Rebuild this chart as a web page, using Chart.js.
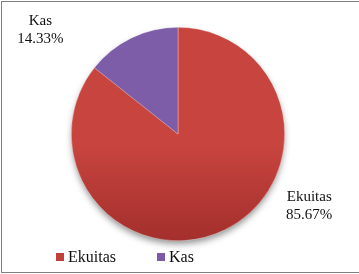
<!DOCTYPE html>
<html>
<head>
<meta charset="utf-8">
<script src="https://cdn.jsdelivr.net/npm/chart.js@4.4.0/dist/chart.umd.min.js"></script>
<style>
  html, body { margin: 0; padding: 0; background: #fff; }
  #wrap { position: relative; width: 359px; height: 274px; overflow: hidden; }
  #frame {
    position: absolute; left: 1px; top: 1px; width: 370px; height: 270px;
    border: 1px solid #7f7f7f; border-right: none; pointer-events: none;
  }
  canvas { position: absolute; left: 0; top: 0; }
  #legend {
    position: absolute; left: 56px; top: 248px;
    font-family: "Liberation Serif", "Times New Roman", serif; font-size: 16px; color: #111;
    display: flex; gap: 41px; white-space: nowrap;
  }
  #legend span.item { display: flex; align-items: center; }
  #legend i { display: inline-block; width: 8px; height: 8px; margin-right: 4px; }
</style>
</head>
<body>
<div id="wrap">
  <canvas id="pie" width="359" height="274"></canvas>
  <div id="legend"></div>
  <div id="frame"></div>
</div>
<script>
// data
const categories = ['Ekuitas', 'Kas'];
const shares = [85.67, 14.33];
const shareLabels = ['85.67%', '14.33%'];
const colorsTop = ['#c8443f', '#7d5ca8'];
const colorsBottom = ['#a32f2c', '#7654a2'];
const legendColors = ['#c0403c', '#7b5aa6'];

// where each data label sits, relative to the pie centre (in radii)
const labelOffsets = [
  { x: 1.23, y: 0.68 },   // Ekuitas
  { x: -1.29, y: -0.97 }  // Kas
];

const serif = '"Liberation Serif", "Times New Roman", serif';

/* legend as html */
const legendEl = document.getElementById('legend');
categories.forEach((c, i) => {
  const s = document.createElement('span');
  s.className = 'item';
  s.innerHTML = '<i style="background:' + legendColors[i] + '"></i>' + c;
  legendEl.appendChild(s);
});

/* soft shadow under the pie */
const pieShadow = {
  id: 'pieShadow',
  beforeDatasetsDraw(chart) {
    const arc = chart.getDatasetMeta(0).data[0];
    if (!arc) return;
    const ctx = chart.ctx;
    ctx.save();
    ctx.shadowColor = 'rgba(0,0,0,0.45)';
    ctx.shadowBlur = 7;
    ctx.shadowOffsetY = 4;
    ctx.fillStyle = '#a32f2c';
    ctx.beginPath();
    ctx.arc(arc.x, arc.y, arc.outerRadius - 1, 0, Math.PI * 2);
    ctx.fill();
    ctx.restore();
  }
};

/* outside labels: category + percentage */
const outLabels = {
  id: 'outLabels',
  afterDatasetsDraw(chart) {
    const ctx = chart.ctx;
    const meta = chart.getDatasetMeta(0);
    ctx.save();
    ctx.font = '15px ' + serif;
    ctx.fillStyle = '#111';
    ctx.textAlign = 'center';
    ctx.textBaseline = 'middle';
    meta.data.forEach((arc, i) => {
      const r = arc.outerRadius;
      const x = arc.x + labelOffsets[i].x * r;
      const y = arc.y + labelOffsets[i].y * r;
      ctx.fillText(categories[i], x, y - 9);
      ctx.fillText(shareLabels[i], x, y + 9);
    });
    ctx.restore();
  }
};

function sliceFill(context) {
  const chart = context.chart;
  const area = chart.chartArea;
  const i = context.dataIndex;
  if (!area) return colorsTop[i];
  const g = chart.ctx.createLinearGradient(0, area.top, 0, area.bottom);
  g.addColorStop(0, colorsTop[i]);
  g.addColorStop(0.55, colorsTop[i]);
  g.addColorStop(1, colorsBottom[i]);
  return g;
}

new Chart(document.getElementById('pie'), {
  type: 'pie',
  data: {
    labels: categories,
    datasets: [{
      data: shares,
      backgroundColor: sliceFill,
      borderWidth: 0.6,
      borderColor: 'rgba(255,255,255,0.5)'
    }]
  },
  options: {
    responsive: false,
    animation: false,
    events: [],
    layout: { padding: { top: 27, bottom: 33, left: 0, right: 3 } },
    plugins: {
      legend: { display: false },
      tooltip: { enabled: false }
    }
  },
  plugins: [pieShadow, outLabels]
});
</script>
</body>
</html>
